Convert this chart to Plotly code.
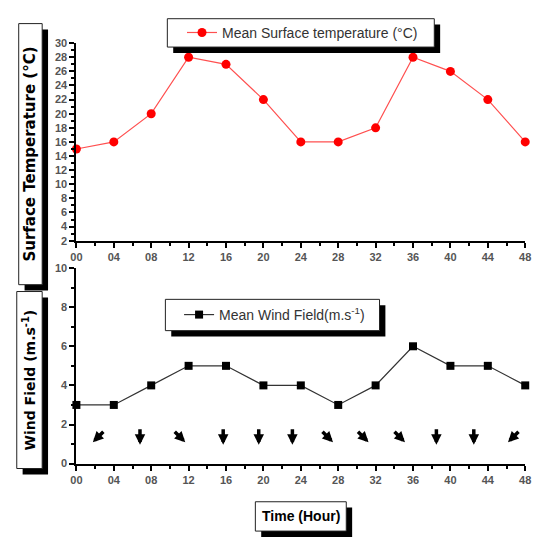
import math
import plotly.graph_objects as go

hours = [0, 4, 8, 12, 16, 20, 24, 28, 32, 36, 40, 44, 48]
hour_labels = ["00", "04", "08", "12", "16", "20", "24", "28", "32", "36", "40", "44", "48"]
temperature = [15, 16, 20, 28, 27, 22, 16, 16, 18, 28, 26, 22, 16]
wind_speed = [3, 3, 4, 5, 5, 4, 4, 3, 4, 6, 5, 5, 4]

# wind direction arrows (hour position, height, pointing direction in degrees from north)
arrow_hours = [2.4, 6.8, 11.0, 15.7, 19.5, 23.1, 26.8, 30.6, 34.5, 38.5, 42.5, 46.8]
arrow_level = [1.4] * 12
arrow_dir = [225, 180, 135, 180, 180, 180, 135, 135, 135, 180, 180, 225]

W = H = 541
def px(x):
    return x / W
def py(y):
    return 1 - y / H

x_dom = [px(72), px(531)]
top_dom = [py(240), py(38)]
bot_dom = [py(468), py(268)]

fig = go.Figure()
fig.add_trace(go.Scatter(
    x=hours, y=temperature, mode="lines+markers", name="Mean Surface temperature (°C)",
    line=dict(color="#ff5050", width=1.2), marker=dict(color="#ff0000", size=9, symbol="circle"),
    xaxis="x", yaxis="y", legend="legend", cliponaxis=False))
fig.add_trace(go.Scatter(
    x=hours, y=wind_speed, mode="lines+markers", name="Mean Wind Field(m.s<sup>-1</sup>)",
    line=dict(color="#333333", width=1.2), marker=dict(color="#000000", size=8, symbol="square"),
    xaxis="x2", yaxis="y2", legend="legend2", cliponaxis=False))

tickfont = dict(family="Liberation Sans, Arial", size=11, color="#555555", weight="bold")
axcommon = dict(showline=True, linewidth=2, linecolor="black", ticks="outside", ticklen=5,
                tickwidth=2, tickcolor="black", showgrid=False, zeroline=False, tickfont=tickfont)
minor_x = dict(dtick=2, ticklen=3, tickwidth=1.5, tickcolor="black", ticks="outside")
minor_y = dict(dtick=1, ticklen=3, tickwidth=1.5, tickcolor="black", ticks="outside")
legfont = dict(family="Liberation Sans, Arial", size=14, color="#333")

fig.update_layout(
    width=W, height=H, margin=dict(l=0, r=0, t=0, b=0),
    paper_bgcolor="white", plot_bgcolor="white", showlegend=True,
    xaxis=dict(domain=x_dom, range=[0, 48], tickvals=hours, ticktext=hour_labels,
               minor=minor_x, anchor="y", **axcommon),
    yaxis=dict(domain=top_dom, range=[2, 30], dtick=2, tick0=2, minor=minor_y, anchor="x", **axcommon),
    xaxis2=dict(domain=x_dom, range=[0, 48], tickvals=hours, ticktext=hour_labels,
                minor=minor_x, anchor="y2", **axcommon),
    yaxis2=dict(domain=bot_dom, range=[0, 10], dtick=2, tick0=0, minor=minor_y, anchor="x2", **axcommon),
    legend=dict(x=px(180), y=py(27.5), xanchor="left", yanchor="middle", bgcolor="rgba(0,0,0,0)",
                borderwidth=0, font=legfont, visible=True),
    legend2=dict(x=px(177), y=py(316), xanchor="left", yanchor="middle", bgcolor="rgba(0,0,0,0)",
                 borderwidth=0, font=legfont, visible=True),
)

shapes = []
annotations = []

def frame(x0, y0, x1, y1):
    shapes.append(dict(type="rect", xref="paper", yref="paper", x0=px(x0 + 6), x1=px(x1 + 6),
                       y0=py(y1 + 6), y1=py(y0 + 6), fillcolor="black", line=dict(width=0), layer="above"))
    shapes.append(dict(type="rect", xref="paper", yref="paper", x0=px(x0), x1=px(x1),
                       y0=py(y1), y1=py(y0), fillcolor="white", line=dict(color="#222", width=1), layer="above"))

def boxed(x0, y0, x1, y1, text, angle=0, size=14, family="DejaVu Sans"):
    frame(x0, y0, x1, y1)
    annotations.append(dict(xref="paper", yref="paper", x=px((x0 + x1) / 2), y=py((y0 + y1) / 2),
                            text=text, showarrow=False, textangle=angle, xanchor="center", yanchor="middle",
                            font=dict(family=family, size=size, color="black", weight="bold")))

boxed(13, 18, 37, 285, "Surface Temperature (°C)", angle=-90, size=15)
boxed(11, 292, 37, 473, "Wind Field (m.s<sup>-1</sup>)", angle=-90, size=14)
boxed(255, 507, 348, 537, "Time (Hour)", size=14, family="Liberation Sans, Arial")

# legend frames
frame(165, 13, 438, 42)
frame(163, 300, 382, 332)

L = 17
for hx, hy, d in zip(arrow_hours, arrow_level, arrow_dir):
    dx = math.sin(math.radians(d))
    dy = -math.cos(math.radians(d))
    annotations.append(dict(x=hx, y=hy, xref="x2", yref="y2", showarrow=True, text="",
                            ax=-L * dx, ay=-L * dy, axref="pixel", ayref="pixel",
                            xshift=L / 2 * dx, yshift=-L / 2 * dy,
                            arrowhead=2, arrowsize=0.6, arrowwidth=3.5, arrowcolor="black"))

fig.update_layout(shapes=shapes, annotations=annotations)
fig.write_html("out.html", config={"displayModeBar": False},
               post_script="document.body.style.margin='0';document.body.style.overflow='hidden';")
